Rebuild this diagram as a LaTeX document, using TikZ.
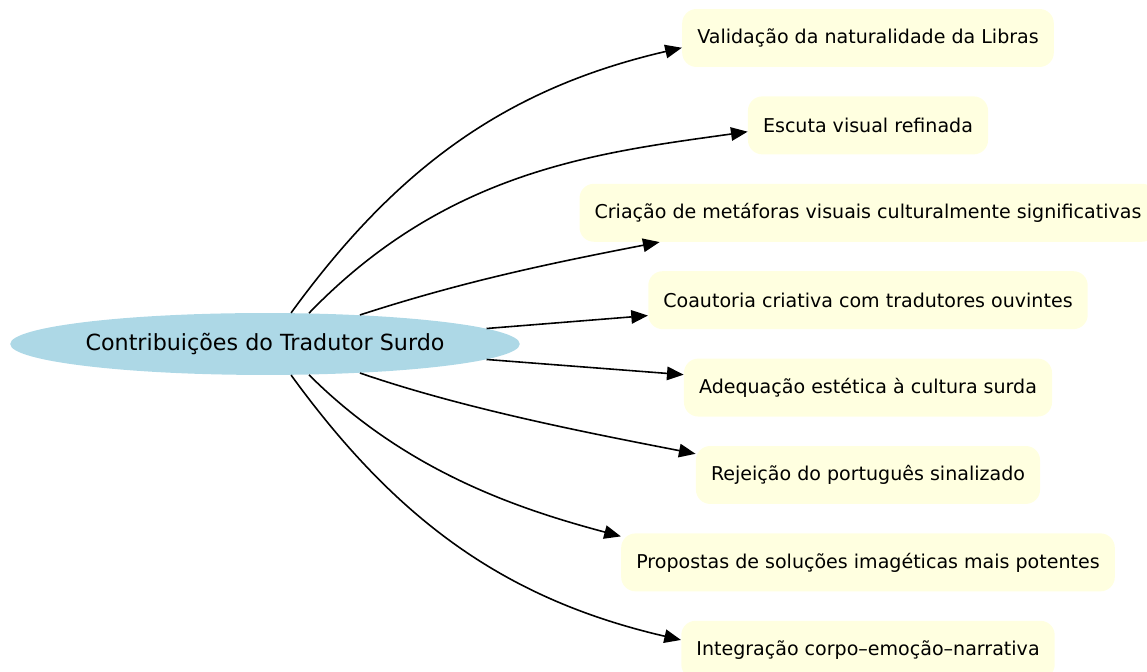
\documentclass[tikz,border=0pt]{standalone}
\usepackage{fontspec}
\setmainfont{DejaVu Sans}
\usetikzlibrary{shapes.geometric}
\usetikzlibrary{arrows.meta}
\usetikzlibrary{positioning}
\definecolor{hubblue}{RGB}{173,216,230}
\definecolor{itemyellow}{RGB}{255,255,224}
\tikzstyle{hub} = [ellipse, fill=hubblue, inner sep=0pt,
                   minimum width=321pt, minimum height=39pt,
                   font=\fontsize{14}{17}\selectfont]
\tikzstyle{item} = [rectangle, rounded corners=9pt, fill=itemyellow,
                    minimum height=36.5pt, inner xsep=9.5pt,
                    font=\fontsize{12}{14}\selectfont]
\tikzstyle{link} = [-{Triangle[length=10.5pt,width=8.5pt]}, line width=1pt]

\begin{document}
\begin{tikzpicture}[x=0.63pt,y=0.63pt]
    \path[use as bounding box, clip] (0,0) rectangle (1147,672);
    \node[hub] (tradutor) at (265,328) {Contribuições do Tradutor Surdo};
    \node[item] (valid) at (868,634) {Validação da naturalidade da Libras};
    \node[item] (escuta) [below of=valid,node distance=55.06pt] {Escuta visual refinada};
    \node[item] (metaf) [below of=escuta,node distance=55.06pt] {Criação de metáforas visuais culturalmente significativas};
    \node[item] (coaut) [below of=metaf,node distance=55.06pt] {Coautoria criativa com tradutores ouvintes};
    \node[item] (adeq) [below of=coaut,node distance=55.06pt] {Adequação estética à cultura surda};
    \node[item] (rejei) [below of=adeq,node distance=55.06pt] {Rejeição do português sinalizado};
    \node[item] (propo) [below of=rejei,node distance=55.06pt] {Propostas de soluções imagéticas mais potentes};
    \node[item] (integ) [below of=propo,node distance=55.06pt] {Integração corpo–emoção–narrativa};
    \draw[link] (tradutor.50) .. controls +(54:180) and +(193:180) .. (valid.183);
    \draw[link] (tradutor.35) .. controls +(46:200) and +(188:150) .. (escuta.183);
    \draw[link] (tradutor.17) .. controls +(18:110) and +(191:110) .. (metaf.188);
    \draw[link] (tradutor.4) -- (coaut.184);
    \draw[link] (tradutor.-4) -- (adeq.176);
    \draw[link] (tradutor.-17) .. controls +(-19:110) and +(169:110) .. (rejei.173);
    \draw[link] (tradutor.-35) .. controls +(-45:140) and +(165:100) .. (propo.174);
    \draw[link] (tradutor.-50) .. controls +(-54:180) and +(167:180) .. (integ.177);
\end{tikzpicture}
\end{document}
